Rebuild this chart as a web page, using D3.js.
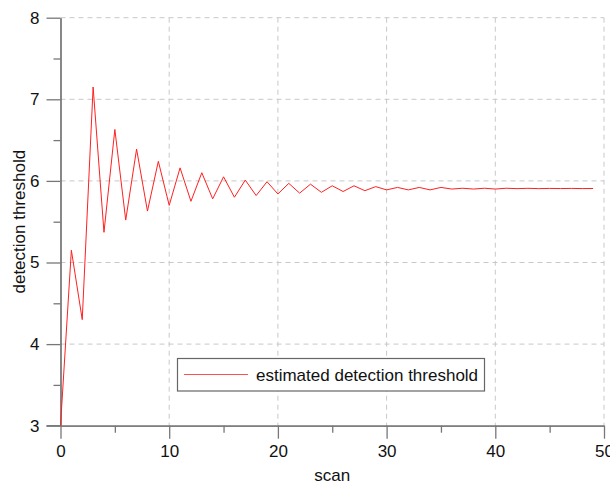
<!DOCTYPE html>
<html>
<head>
<meta charset="utf-8">
<script src="https://cdn.jsdelivr.net/npm/d3@7"></script>
<style>
  body { margin: 0; background: #fff; }
  text { font-family: "Liberation Sans", Arial, sans-serif; fill: #111; }
</style>
</head>
<body>
<svg id="chart" width="610" height="484"></svg>
<script>
// values
var scans = d3.range(0, 50)
var threshold = [
  3.00, 5.15, 4.30, 7.15, 5.37, 6.63, 5.52, 6.39, 5.63, 6.24,
  5.70, 6.16, 5.75, 6.10, 5.78, 6.05, 5.80, 6.01, 5.82, 5.99,
  5.84, 5.97, 5.85, 5.96, 5.86, 5.94, 5.87, 5.94, 5.88, 5.93,
  5.89, 5.92, 5.89, 5.92, 5.89, 5.92, 5.90, 5.91, 5.90, 5.91,
  5.90, 5.91, 5.905, 5.909, 5.905, 5.908, 5.906, 5.908, 5.906, 5.907
]
var xTicks = [0, 10, 20, 30, 40, 50]
var xMinor = [5, 15, 25, 35, 45]
var yTicks = [3, 4, 5, 6, 7, 8]
var yMinor = [3.5, 4.5, 5.5, 6.5, 7.5]
var legendLabel = "estimated detection threshold"

var svg = d3.select("#chart")

var plotLeft = 60.5, plotRight = 604, plotTop = 17.7, plotBottom = 425.7

var x = d3.scaleLinear().domain([0, 50]).range([plotLeft, plotRight])
var y = d3.scaleLinear().domain([3, 8]).range([plotBottom, plotTop])

var axisColor = "#777"
var fontSize = "17px"

// grid
var grid = svg.append("g")
grid.selectAll(".gx")
    .data(xTicks.filter(d => d > 0))
    .enter().append("line")
    .attr("x1", d => x(d)).attr("x2", d => x(d))
    .attr("y1", plotTop).attr("y2", plotBottom)
    .attr("stroke", "#c8c8c8")
    .attr("stroke-dasharray", "5,4")
grid.selectAll(".gy")
    .data(yTicks.filter(d => d > 3))
    .enter().append("line")
    .attr("x1", plotLeft).attr("x2", plotRight)
    .attr("y1", d => y(d)).attr("y2", d => y(d))
    .attr("stroke", "#c8c8c8")
    .attr("stroke-dasharray", "5,4")

// axes
svg.append("g")
    .attr("transform", "translate(0," + plotBottom + ")")
    .call(d3.axisBottom(x).tickValues(xTicks).tickFormat(d3.format("d")).tickSize(13).tickPadding(6).tickSizeOuter(0))
svg.append("g")
    .attr("transform", "translate(0," + plotBottom + ")")
    .call(d3.axisBottom(x).tickValues(xMinor).tickSize(7).tickFormat("").tickSizeOuter(0))
svg.append("g")
    .attr("transform", "translate(" + plotLeft + ",0)")
    .call(d3.axisLeft(y).tickValues(yTicks).tickFormat(d3.format("d")).tickSize(14).tickPadding(7).tickSizeOuter(0))
svg.append("g")
    .attr("transform", "translate(" + plotLeft + ",0)")
    .call(d3.axisLeft(y).tickValues(yMinor).tickSize(7).tickFormat("").tickSizeOuter(0))

svg.selectAll(".domain, .tick line")
    .attr("stroke", axisColor)
    .attr("stroke-width", 1.3)
svg.selectAll(".tick text")
    .style("font-size", fontSize)
    .attr("fill", "#111")

// x axis line extends left to the y ticks
svg.append("line")
    .attr("x1", plotLeft - 14).attr("x2", plotLeft)
    .attr("y1", plotBottom).attr("y2", plotBottom)
    .attr("stroke", axisColor).attr("stroke-width", 1.3)

// axis titles
svg.append("text")
    .attr("x", (plotLeft + plotRight) / 2)
    .attr("y", 481)
    .attr("text-anchor", "middle")
    .style("font-size", fontSize)
    .text("scan")
svg.append("text")
    .attr("transform", "translate(25," + ((plotTop + plotBottom) / 2) + ") rotate(-90)")
    .attr("text-anchor", "middle")
    .style("font-size", fontSize)
    .text("detection threshold")

// series
var line = d3.line()
    .x((d, i) => x(scans[i]))
    .y(d => y(d))
svg.append("path")
    .datum(threshold)
    .attr("d", line)
    .attr("fill", "none")
    .attr("stroke", "#ff2020")
    .attr("stroke-width", 1)

// legend
var legend = svg.append("g")
legend.append("rect")
    .attr("x", 177.5).attr("y", 358.5)
    .attr("width", 307).attr("height", 32.5)
    .attr("fill", "#fff")
    .attr("stroke", "#666")
    .attr("stroke-width", 1.2)
legend.append("line")
    .attr("x1", 184).attr("x2", 248)
    .attr("y1", 374.5).attr("y2", 374.5)
    .attr("stroke", "#ff5050")
    .attr("stroke-width", 1)
legend.append("text")
    .attr("x", 256)
    .attr("y", 380.5)
    .style("font-size", fontSize)
    .text(legendLabel)
</script>
</body>
</html>
